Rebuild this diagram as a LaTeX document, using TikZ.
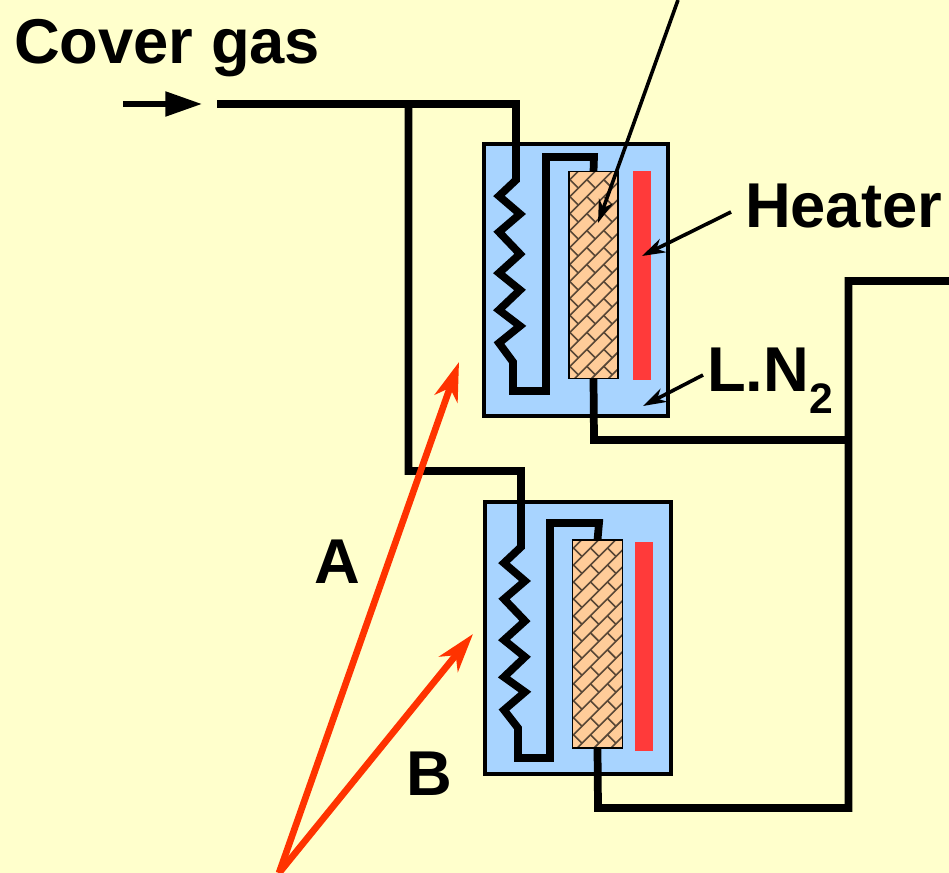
\documentclass[tikz,border=0pt]{standalone}
\usepackage{fontspec}
\setmainfont{Liberation Sans}
\usetikzlibrary{arrows.meta}
\definecolor{pagecol}{HTML}{FFFFCC}
\definecolor{nitrogen}{HTML}{A8D4FF}
\definecolor{heatcol}{HTML}{FF3A3A}
\definecolor{bedcol}{HTML}{FFCC99}
\definecolor{redarrow}{HTML}{FF3300}
\tikzset{
    vessel/.style={draw=black,line width=3pt,fill=nitrogen,inner sep=0pt,outer sep=0pt},
    bed/.style={draw=black,line width=1.1pt,fill=bedcol,inner sep=0pt,outer sep=0pt},
    heatbar/.style={fill=heatcol,inner sep=0pt,outer sep=0pt},
    pipe/.style={line width=5.8pt,line join=miter},
    leader/.style={line width=2.7pt,-{Stealth[length=17.5pt,width=11pt,inset=5.5pt]}},
    redlead/.style={draw=redarrow,line width=5pt,-{Stealth[length=29pt,width=18pt,inset=8.5pt]}},
    caption/.style={inner sep=0pt,outer sep=0pt,anchor=base west,font=\fontsize{47.5}{50}\selectfont\bfseries},
}
\newcommand{\brickfill}[1]{
    \begin{scope}
        \clip (#1.south west) rectangle (#1.north east);
        \begin{scope}[shift={(#1.north west)},shift={(1,8)},rotate=45]
            \foreach \row in {-18,...,18} {
                \draw[black!65!bedcol,line width=1.2pt] (-240,12*\row) -- (240,12*\row);
                \foreach \col in {-10,...,10} {
                    \pgfmathsetmacro{\xpos}{24*\col+12*mod(\row+18,2)}
                    \draw[black!65!bedcol,line width=1.2pt] (\xpos,12*\row) -- (\xpos,12*\row+12);
                }
            }
        \end{scope}
    \end{scope}
    \draw[black,line width=1.1pt] (#1.south west) rectangle (#1.north east);
}
\begin{document}
\begin{tikzpicture}[x=0.75pt,y=-0.75pt]
    \fill[pagecol] (0,0) rectangle (949,873);
    \useasboundingbox (0,0) rectangle (949,873);

    \node[vessel,minimum width=138pt,minimum height=204pt] (boxA) at (576,280) {};
    \node[vessel,minimum width=139.5pt,minimum height=204pt] (boxB) at (578,638) {};

    \coordinate (gasin) at (217,104);
    \coordinate (split) at (408.5,104);
    \coordinate (outA) at (594,440);
    \coordinate (tee) at (848.5,440);
    \coordinate (gasout) at (949,281);
    \coordinate (outB) at (598,808);

    \node[bed,minimum width=37pt,minimum height=155pt] (bedA) at (593.5,275) {};
    \node[bed,minimum width=37.5pt,minimum height=156pt] (bedB) at (597.5,644) {};
    \node[heatbar,minimum width=13.5pt,minimum height=157pt] (heatA) at (642,275.5) {};
    \node[heatbar,minimum width=13.5pt,minimum height=157pt] (heatB) at (644,646.5) {};

    \draw[pipe] (gasin) -- (516,104) -- (516,180) -- (499,196) -- (520,214) -- (499,232)
        -- (520,254) -- (499,273) -- (520,290) -- (499,310) -- (520,326) -- (499,343)
        -- (513,362) -- (513,391) -- (546,391) -- (546,157) -- (594,157) -- (bedA.north);
    \draw[pipe] (split) -- (408.5,471) -- (521,471) -- (521,547) -- (504,563) -- (525,581)
        -- (504,599) -- (525,621) -- (504,640) -- (525,657) -- (504,677) -- (525,692)
        -- (504,710) -- (518,728) -- (518,758) -- (550,758) -- (550,523) -- (599,523) -- (bedB.north);
    \draw[pipe] (bedA.south) -- (outA) -- (tee);
    \draw[pipe] (bedB.south) -- (outB) -- (848.5,808) -- (848.5,281) -- (gasout);

    \brickfill{bedA}
    \brickfill{bedB}

    \node[caption] (gaslabel) at (14,64) {Cover gas};
    \node[caption] (heatlabel) at (745,228) {Heater};
    \node[caption] (lnlabel) at (707,392) {L.N\raisebox{-16pt}{\fontsize{32}{32}\selectfont\bfseries 2}};
    \node[caption] (alabel) at (314,583) {A};
    \node[caption] (blabel) at (406,795) {B};

    \coordinate (gastail) at (123,104);
    \coordinate (gastip) at (202,104);
    \coordinate (bedtail) at (678,0);
    \coordinate (bedtip) at (598,223);
    \coordinate (heattail) at (731,212);
    \coordinate (heattip) at (642,256);
    \coordinate (lntail) at (703,375);
    \coordinate (lntip) at (643,406);
    \coordinate (redbase) at (279,873);
    \coordinate (redA) at (459,362);
    \coordinate (redB) at (473,634);

    \draw[line width=4pt,-{Triangle[length=27.5pt,width=18pt]}] (gastail) -- (gastip);
    \draw[leader] (bedtail) -- (bedtip);
    \draw[leader] (heattail) -- (heattip);
    \draw[leader] (lntail) -- (lntip);
    \draw[redlead] (redbase) -- (redA);
    \draw[redlead] (redbase) -- (redB);
\end{tikzpicture}
\end{document}
